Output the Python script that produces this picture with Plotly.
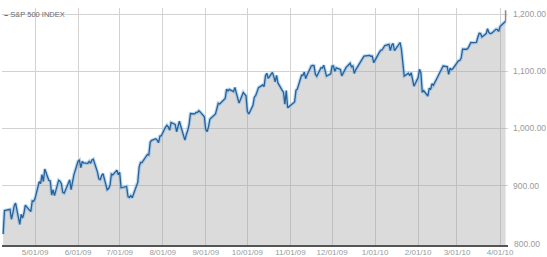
import plotly.graph_objects as go

# ---- data (S&P 500 daily close) ----
dates = [
 "2009-04-08","2009-04-09","2009-04-13","2009-04-14","2009-04-15","2009-04-16","2009-04-17","2009-04-20","2009-04-21","2009-04-22","2009-04-23","2009-04-24","2009-04-27","2009-04-28","2009-04-29","2009-04-30",
 "2009-05-01","2009-05-04","2009-05-05","2009-05-06","2009-05-07","2009-05-08","2009-05-11","2009-05-12","2009-05-13","2009-05-14","2009-05-15","2009-05-18","2009-05-19","2009-05-20","2009-05-21","2009-05-22","2009-05-26","2009-05-27","2009-05-28","2009-05-29",
 "2009-06-01","2009-06-02","2009-06-03","2009-06-04","2009-06-05","2009-06-08","2009-06-09","2009-06-10","2009-06-11","2009-06-12","2009-06-15","2009-06-16","2009-06-17","2009-06-18","2009-06-19","2009-06-22","2009-06-23","2009-06-24","2009-06-25","2009-06-26","2009-06-29","2009-06-30",
 "2009-07-01","2009-07-02","2009-07-06","2009-07-07","2009-07-08","2009-07-09","2009-07-10","2009-07-13","2009-07-14","2009-07-15","2009-07-16","2009-07-17","2009-07-20","2009-07-21","2009-07-22","2009-07-23","2009-07-24","2009-07-27","2009-07-28","2009-07-29","2009-07-30","2009-07-31",
 "2009-08-03","2009-08-04","2009-08-05","2009-08-06","2009-08-07","2009-08-10","2009-08-11","2009-08-12","2009-08-13","2009-08-14","2009-08-17","2009-08-18","2009-08-19","2009-08-20","2009-08-21","2009-08-24","2009-08-25","2009-08-26","2009-08-27","2009-08-28","2009-08-31",
 "2009-09-01","2009-09-02","2009-09-03","2009-09-04","2009-09-08","2009-09-09","2009-09-10","2009-09-11","2009-09-14","2009-09-15","2009-09-16","2009-09-17","2009-09-18","2009-09-21","2009-09-22","2009-09-23","2009-09-24","2009-09-25","2009-09-28","2009-09-29","2009-09-30",
 "2009-10-01","2009-10-02","2009-10-05","2009-10-06","2009-10-07","2009-10-08","2009-10-09","2009-10-12","2009-10-13","2009-10-14","2009-10-15","2009-10-16","2009-10-19","2009-10-20","2009-10-21","2009-10-22","2009-10-23","2009-10-26","2009-10-27","2009-10-28","2009-10-29","2009-10-30",
 "2009-11-02","2009-11-03","2009-11-04","2009-11-05","2009-11-06","2009-11-09","2009-11-10","2009-11-11","2009-11-12","2009-11-13","2009-11-16","2009-11-17","2009-11-18","2009-11-19","2009-11-20","2009-11-23","2009-11-24","2009-11-25","2009-11-27","2009-11-30",
 "2009-12-01","2009-12-02","2009-12-03","2009-12-04","2009-12-07","2009-12-08","2009-12-09","2009-12-10","2009-12-11","2009-12-14","2009-12-15","2009-12-16","2009-12-17","2009-12-18","2009-12-21","2009-12-22","2009-12-23","2009-12-24","2009-12-28","2009-12-29","2009-12-30","2009-12-31",
 "2010-01-04","2010-01-05","2010-01-06","2010-01-07","2010-01-08","2010-01-11","2010-01-12","2010-01-13","2010-01-14","2010-01-15","2010-01-19","2010-01-20","2010-01-21","2010-01-22","2010-01-25","2010-01-26","2010-01-27","2010-01-28","2010-01-29",
 "2010-02-01","2010-02-02","2010-02-03","2010-02-04","2010-02-05","2010-02-08","2010-02-09","2010-02-10","2010-02-11","2010-02-12","2010-02-16","2010-02-17","2010-02-18","2010-02-19","2010-02-22","2010-02-23","2010-02-24","2010-02-25","2010-02-26",
 "2010-03-01","2010-03-02","2010-03-03","2010-03-04","2010-03-05","2010-03-08","2010-03-09","2010-03-10","2010-03-11","2010-03-12","2010-03-15","2010-03-16","2010-03-17","2010-03-18","2010-03-19","2010-03-22","2010-03-23","2010-03-24","2010-03-25","2010-03-26","2010-03-29","2010-03-30","2010-03-31",
 "2010-04-01","2010-04-05",
]
values = [
 815.55,856.56,858.73,841.50,852.06,865.30,869.60,832.39,850.08,843.55,851.92,866.23,857.51,855.16,873.64,872.81,
 877.52,907.24,903.80,919.53,907.39,929.23,909.24,908.35,883.92,893.07,882.88,909.71,908.13,903.47,888.33,887.00,910.33,893.06,906.83,919.14,
 942.87,944.74,931.76,942.46,940.09,939.14,942.43,939.15,944.89,946.21,923.72,911.97,910.71,918.37,921.23,893.04,895.10,900.94,920.26,918.90,927.23,919.32,
 923.33,896.42,898.72,881.03,879.56,882.68,879.13,901.05,905.84,932.68,940.74,940.38,951.13,954.58,954.07,976.29,979.26,982.18,979.62,975.15,986.75,987.48,
 1002.63,1005.65,1002.72,997.08,1010.48,1007.10,994.35,1005.81,1012.73,1004.09,979.73,989.67,996.46,1007.37,1026.13,1025.57,1028.00,1028.12,1030.98,1028.93,1020.62,
 998.04,994.75,1003.24,1016.40,1025.39,1033.37,1044.14,1042.73,1049.34,1052.63,1068.76,1065.49,1068.30,1064.66,1071.66,1060.87,1050.78,1044.38,1062.98,1060.61,1057.08,
 1029.85,1025.21,1040.46,1054.72,1057.58,1065.48,1071.49,1076.19,1073.19,1092.02,1096.56,1087.68,1097.91,1091.06,1081.40,1092.91,1079.60,1066.95,1063.41,1042.63,1066.11,1036.19,
 1042.88,1045.41,1046.50,1066.63,1069.30,1093.08,1093.01,1098.51,1087.24,1093.48,1109.30,1110.32,1109.80,1094.90,1091.38,1106.24,1105.65,1110.63,1091.49,1095.63,
 1108.86,1109.24,1099.92,1105.98,1103.25,1091.94,1095.95,1102.35,1106.41,1114.11,1107.93,1109.18,1096.08,1102.47,1114.05,1118.02,1120.59,1126.48,1127.78,1126.20,1126.42,1115.10,
 1132.99,1136.52,1137.14,1141.69,1144.98,1146.98,1136.22,1145.68,1148.46,1136.03,1150.23,1138.04,1116.48,1091.76,1096.78,1092.17,1097.50,1084.53,1073.87,
 1089.19,1103.32,1097.28,1063.11,1066.19,1056.74,1070.52,1068.13,1078.47,1075.51,1094.87,1099.51,1106.75,1109.17,1108.01,1094.60,1105.24,1102.94,1104.49,
 1115.71,1118.31,1118.79,1122.97,1138.70,1138.50,1140.45,1145.61,1150.24,1149.99,1150.51,1159.46,1166.21,1165.83,1159.90,1165.81,1174.17,1167.72,1165.73,1166.59,1173.22,1173.27,1169.43,
 1178.10,1187.44,
]

x_tickvals = ["2009-05-01","2009-06-01","2009-07-01","2009-08-01","2009-09-01","2009-10-01",
              "2009-11-01","2009-12-01","2010-01-01","2010-02-01","2010-03-01","2010-04-01"]
x_ticktext = ["5/01/09","6/01/09","7/01/09","8/01/09","9/01/09","10/01/09",
              "11/01/09","12/01/09","1/01/10","2/01/10","3/01/10","4/01/10"]
y_tickvals = [900, 1000, 1100, 1200]
y_ticktext = ["900.00", "1,000.00", "1,100.00", "1,200.00"]
series_name = "S&P 500 INDEX"

Y_MIN, Y_MAX = 796.5, 1210.5
X_MIN, X_MAX = "2009-04-07 05:00", "2010-04-06 18:00"

FONT = "Liberation Sans, Arial, sans-serif"

fig = go.Figure()
# filled area
fig.add_trace(go.Scatter(
    x=dates, y=[Y_MIN] * len(dates), mode="lines", line=dict(width=0),
    showlegend=False, hoverinfo="skip"))
fig.add_trace(go.Scatter(
    x=dates, y=values, mode="lines", fill="tonexty",
    fillcolor="rgba(160,160,160,0.38)", line=dict(width=0),
    showlegend=False, hoverinfo="skip"))
# light blue glow
fig.add_trace(go.Scatter(
    x=dates, y=values, mode="lines",
    line=dict(color="rgba(120,180,225,0.5)", width=3.5),
    showlegend=False, hoverinfo="skip"))
# main line
fig.add_trace(go.Scatter(
    x=dates, y=values, mode="lines", name=series_name,
    line=dict(color="#28609a", width=1.3), showlegend=False))
# end marker segment
fig.add_trace(go.Scatter(
    x=[dates[-1], dates[-1]], y=[values[-1], Y_MAX - 4], mode="lines",
    line=dict(color="#8a8a8a", width=1.5), showlegend=False, hoverinfo="skip"))

fig.update_layout(
    width=547, height=257,
    margin=dict(l=2, r=39, t=8, b=12, autoexpand=False),
    paper_bgcolor="white", plot_bgcolor="white",
    font=dict(family=FONT, size=8, color="#9a9a9a"),
    xaxis=dict(
        type="date", range=[X_MIN, X_MAX],
        tickvals=x_tickvals, ticktext=x_ticktext,
        showgrid=True, gridcolor="#d2d2d2", gridwidth=1,
        showline=True, linecolor="#555555", linewidth=1.5,
        ticks="", zeroline=False, automargin=False,
        ticklabelstandoff=-1,
        tickfont=dict(family=FONT, size=8, color="#9a9a9a"),
    ),
    yaxis=dict(
        range=[Y_MIN, Y_MAX], side="right",
        tickvals=y_tickvals, ticktext=y_ticktext,
        showgrid=True, gridcolor="#d2d2d2", gridwidth=1,
        showline=False, ticks="", zeroline=False, automargin=False,
        ticklabelstandoff=4,
        tickfont=dict(family=FONT, size=8.5, color="#9a9a9a"),
    ),
    annotations=[
        dict(xref="paper", yref="paper", x=0.0, y=1.0, xanchor="left", yanchor="middle",
             yshift=-6, showarrow=False,
             text="<span style='color:#24598a'><b>–</b></span> " + series_name,
             font=dict(family=FONT, size=7.5, color="#6a6a6a")),
        dict(xref="paper", yref="y", x=1.0, y=800, xanchor="left", yanchor="middle",
             xshift=4, yshift=-1, showarrow=False, text="800.00",
             font=dict(family=FONT, size=8.5, color="#9a9a9a")),
    ],
)

fig.write_html("out.html")
